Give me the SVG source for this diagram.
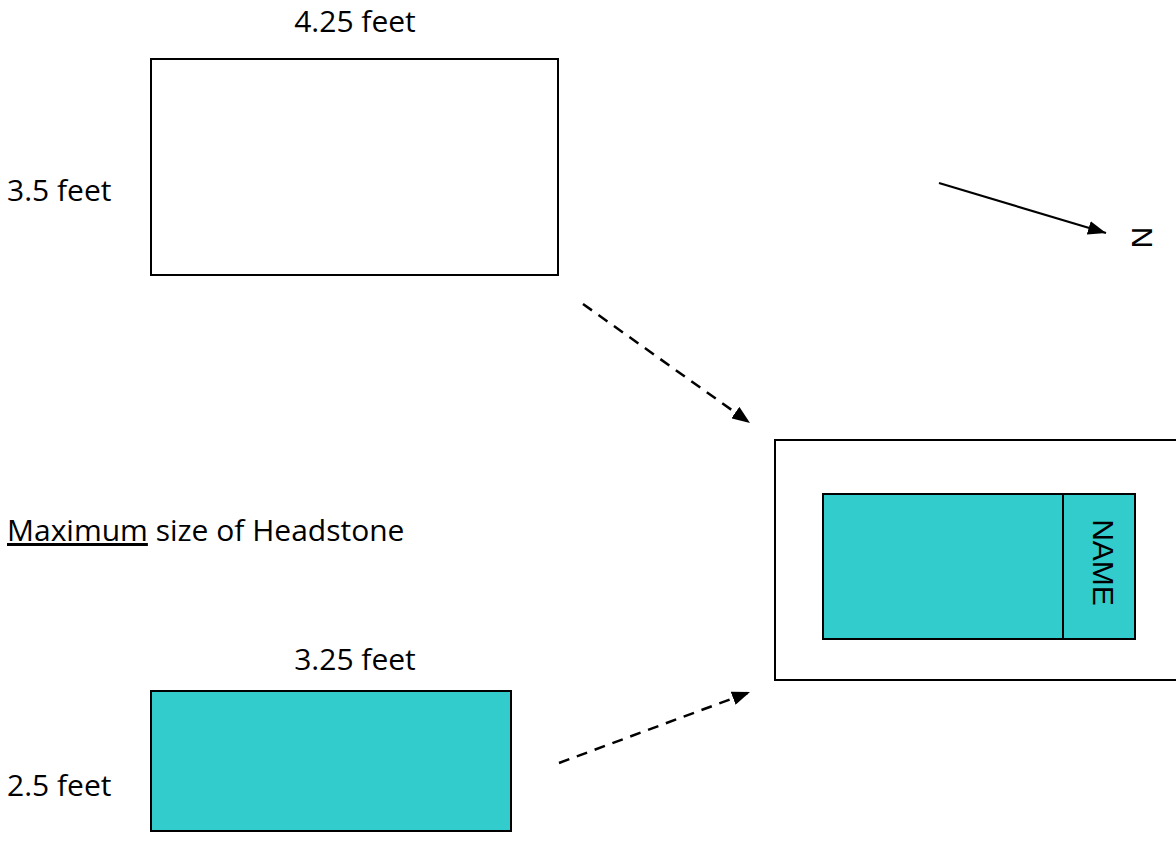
<svg xmlns="http://www.w3.org/2000/svg" width="1176" height="860" viewBox="0 0 1176 860">
<defs>
<style>
.lbl{font-family:"Open Sans","Noto Sans","Liberation Sans",sans-serif;font-size:30px;fill:#000}
.ar{font-family:"Liberation Sans",Arial,sans-serif;font-size:30px;fill:#000}
.box{fill:#fff;stroke:#000;stroke-width:2}
.stone{fill:#33CCCC;stroke:#000;stroke-width:2}
.dash{fill:none;stroke:#000;stroke-width:2.5;stroke-dasharray:11 8}
.solid{fill:none;stroke:#000;stroke-width:2.2}
</style>
<marker id="ah" viewBox="0 0 18 14" refX="18" refY="7" markerWidth="18" markerHeight="14" markerUnits="userSpaceOnUse" orient="auto">
<path d="M0,0 L18,7 L0,14 z" fill="#000"/>
</marker>
</defs>
<rect width="1176" height="860" fill="#fff"/>

<g id="plot">
<rect class="box" x="151" y="59" width="407" height="216"/>
<text class="lbl" x="355" y="32" text-anchor="middle">4.25 feet</text>
<text class="lbl" x="7" y="201">3.5 feet</text>
</g>

<g id="caption">
<text class="lbl" x="7" y="541"><tspan text-decoration="underline">Maximum</tspan> size of Headstone</text>
</g>

<g id="headstone">
<rect class="stone" x="151" y="691" width="360" height="140"/>
<text class="lbl" x="355" y="670" text-anchor="middle">3.25 feet</text>
<text class="lbl" x="7" y="796">2.5 feet</text>
</g>

<g id="layout">
<rect class="box" x="775" y="440" width="420" height="240"/>
<rect class="stone" x="823" y="494" width="240" height="145"/>
<rect class="stone" x="1063" y="494" width="72" height="145"/>
<text class="ar" transform="translate(1093,562.5) rotate(90)" text-anchor="middle">NAME</text>
</g>

<g id="north">
<text class="ar" transform="translate(1132,237.5) rotate(90)" text-anchor="middle" font-size="31">N</text>
</g>

<g id="connectors">
<line class="solid" x1="939" y1="183" x2="1106" y2="233" marker-end="url(#ah)"/>
<line class="dash" x1="583" y1="304" x2="750" y2="423" marker-end="url(#ah)"/>
<line class="dash" x1="559" y1="763" x2="750" y2="692" marker-end="url(#ah)"/>
</g>
</svg>
